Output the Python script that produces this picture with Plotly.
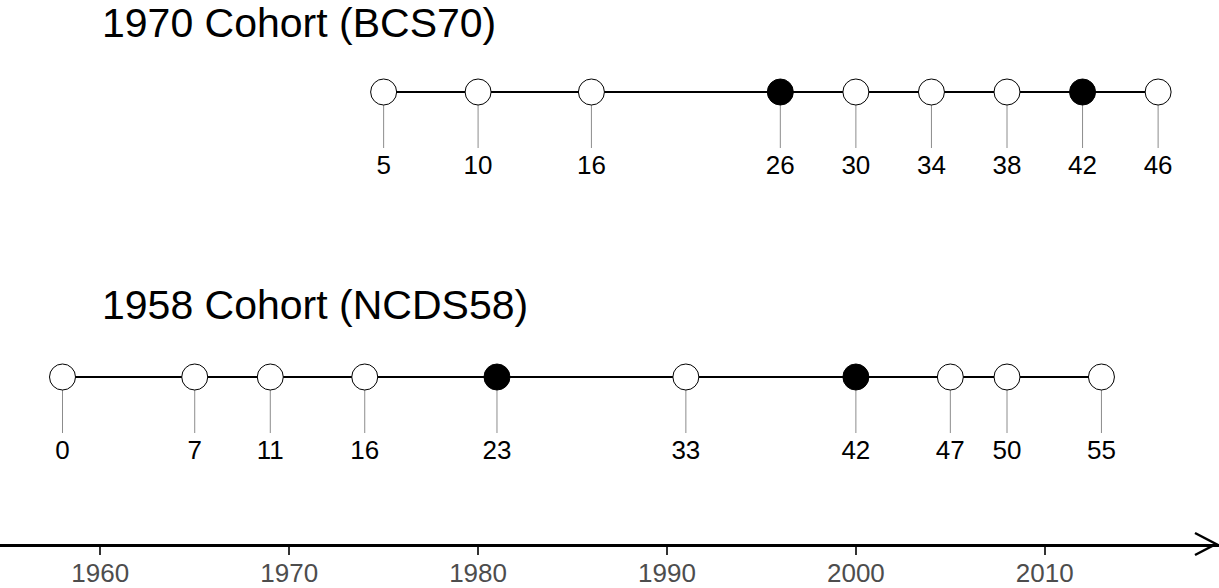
import plotly.graph_objects as go

# ---- data ----
bcs_birth = 1970
bcs_ages = [5, 10, 16, 26, 30, 34, 38, 42, 46]
bcs_filled = [26, 42]
bcs_title = "1970 Cohort (BCS70)"

ncds_birth = 1958
ncds_ages = [0, 7, 11, 16, 23, 33, 42, 47, 50, 55]
ncds_filled = [23, 42]
ncds_title = "1958 Cohort (NCDS58)"

year_ticks = [1960, 1970, 1980, 1990, 2000, 2010]

# ---- layout constants (pixels) ----
W, H = 1219, 588
AXIS_Y = 544
FONT = "Liberation Sans, Arial, sans-serif"

rows = [
    (bcs_birth, bcs_ages, bcs_filled, bcs_title, 92, 23),
    (ncds_birth, ncds_ages, ncds_filled, ncds_title, 377, 305),
]

fig = go.Figure()
annotations = []
for birth, ages, filled, title, ry, ty in rows:
    years = [birth + a for a in ages]
    # connecting line
    fig.add_trace(go.Scatter(x=[years[0], years[-1]], y=[ry, ry], mode="lines",
                             line=dict(color="black", width=2), hoverinfo="skip",
                             showlegend=False))
    # drop lines
    dx, dy = [], []
    for yr in years:
        dx += [yr, yr, None]
        dy += [ry, ry + 56, None]
    fig.add_trace(go.Scatter(x=dx, y=dy, mode="lines",
                             line=dict(color="#8c8c8c", width=1), hoverinfo="skip",
                             showlegend=False))
    # circles
    fig.add_trace(go.Scatter(x=years, y=[ry] * len(years), mode="markers",
                             marker=dict(size=26,
                                         color=["black" if a in filled else "white" for a in ages],
                                         line=dict(color="black", width=1)),
                             showlegend=False))
    # age labels
    fig.add_trace(go.Scatter(x=years, y=[ry + 75] * len(years), mode="text",
                             text=[str(a) for a in ages], textposition="middle center",
                             textfont=dict(family=FONT, size=26, color="black"),
                             showlegend=False, hoverinfo="skip"))
    annotations.append(dict(text=title, xref="paper", yref="y", x=101 / W, y=ty,
                            xanchor="left", yanchor="middle", showarrow=False,
                            borderpad=0,
                            font=dict(family=FONT, size=41, color="black")))

x0 = 1958 - 62.5 / 18.89
x1 = x0 + W / 18.89

# arrow head (open chevron) in paper coords relative to plot area
yd = lambda py: 1 - py / AXIS_Y
shapes = [dict(type="path", xref="paper", yref="paper",
               path=f"M {1195/W} {yd(533)} L {1216/W} {yd(544)} L {1195/W} {yd(555)}",
               line=dict(color="black", width=2.5))]

fig.update_layout(
    width=W, height=H, autosize=False,
    margin=dict(l=0, r=0, t=0, b=H - AXIS_Y, pad=0),
    paper_bgcolor="white", plot_bgcolor="white",
    showlegend=False,
    annotations=annotations,
    shapes=shapes,
    xaxis=dict(range=[x0, x1], showgrid=False, zeroline=False,
               showline=True, linecolor="black", linewidth=2.5,
               ticks="outside", ticklen=8, tickwidth=2, tickcolor="#333333",
               tickvals=year_ticks, ticktext=[str(t) for t in year_ticks],
               ticklabelstandoff=-4,
               tickfont=dict(family=FONT, size=26, color="#4d4d4d")),
    yaxis=dict(range=[AXIS_Y, 0], visible=False, showgrid=False, zeroline=False),
)

fig.write_html("out.html", config={"displayModeBar": False},
               post_script="document.body.style.margin='0';document.body.style.overflow='hidden';")
